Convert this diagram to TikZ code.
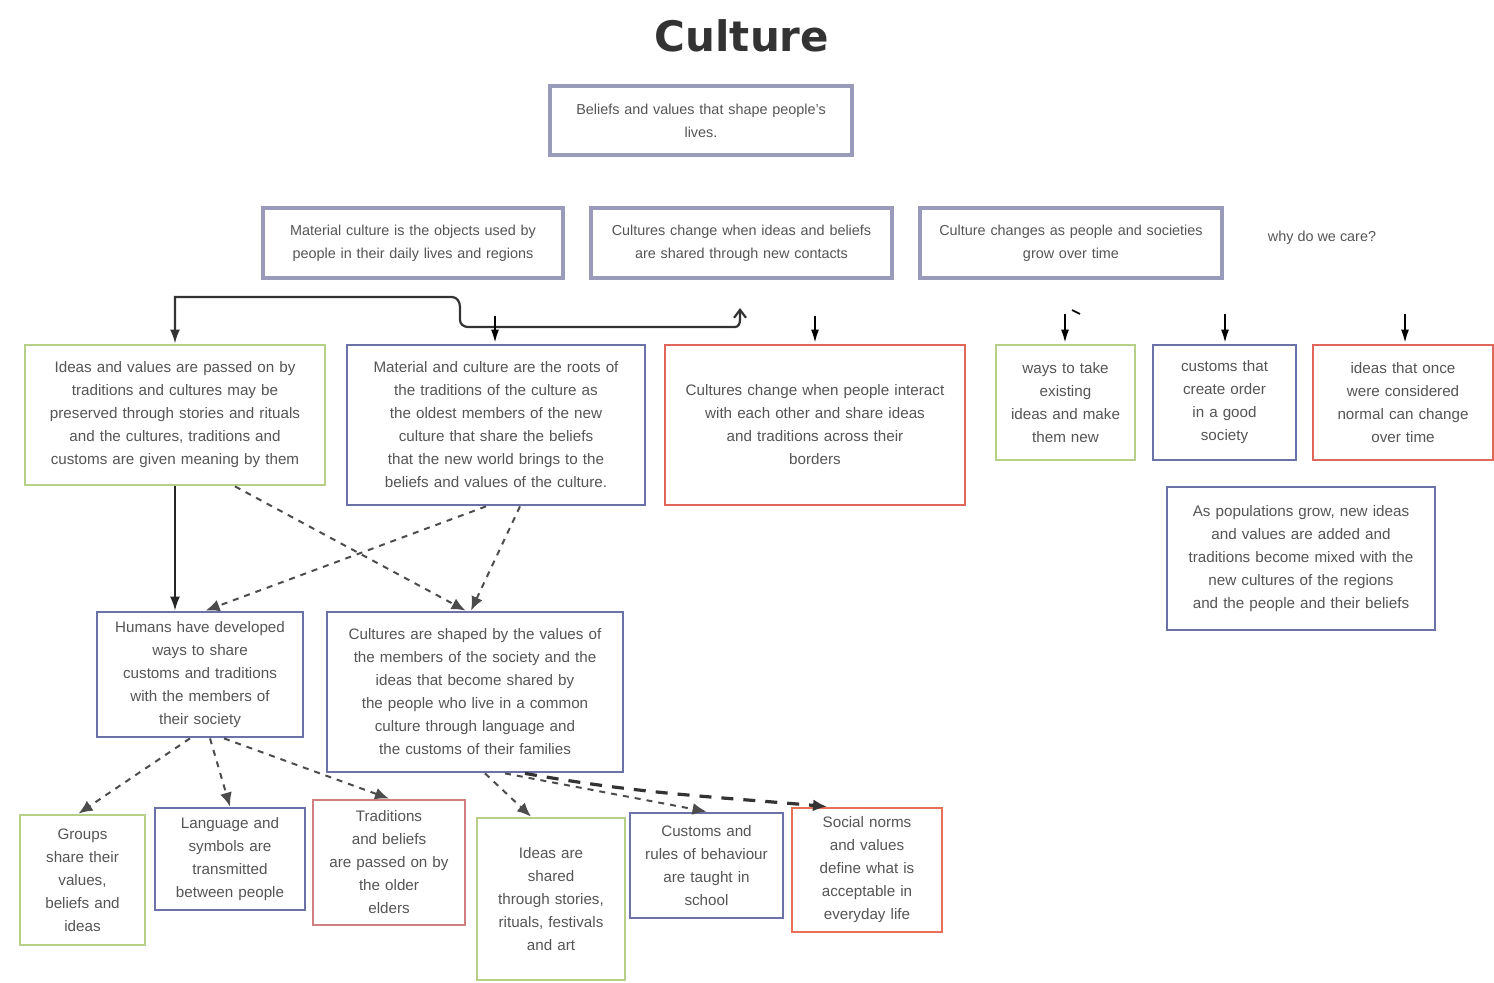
\documentclass[tikz,border=0pt]{standalone}
\usepackage{fontspec}
\setmainfont{Liberation Sans}
\newfontfamily\titlefont{DejaVu Sans}
\usetikzlibrary{arrows.meta}
\hyphenpenalty=10000
\exhyphenpenalty=10000
\definecolor{cgreen}{HTML}{B8CF88}
\definecolor{cblue}{HTML}{6A72A8}
\definecolor{cred}{HTML}{E0675A}
\definecolor{cpink}{HTML}{D08080}
\definecolor{corange}{HTML}{E87058}
\definecolor{cgrey}{HTML}{9A9ABA}
\definecolor{ctext}{HTML}{555555}
\newcommand{\bx}[7]{%
  \pgfmathsetmacro{\bw}{(#4-#2)*0.5}%
  \pgfmathsetmacro{\bh}{(#5-#3)*0.5}%
  \pgfmathsetmacro{\tw}{(#4-#2)*0.5-6}%
  \node[boxbase,minimum width=\bw pt,minimum height=\bh pt,text width=\tw pt,#6] (#1) at ({(#2+#4)/2},{(#3+#5)/2}) {#7};}
\tikzset{
  boxbase/.style={draw,rectangle,inner sep=0pt,align=center,fill=white,
    font=\fontsize{7.6}{11.5}\selectfont,text=ctext,line width=1.4pt},
  gbox/.style={draw=cgreen},
  bbox/.style={draw=cblue},
  rbox/.style={draw=cred},
  pbox/.style={draw=cpink},
  obox/.style={draw=corange},
  tbox/.style={draw=cgrey,line width=1.8pt,font=\fontsize{7.2}{11.5}\selectfont},
  solidarr/.style={line width=1pt,black!85,-{Latex[length=7pt,width=5pt]}},
  dasharr/.style={line width=1pt,black!70,dash pattern=on 3pt off 3pt,-{Latex[length=7pt,width=6pt]}},
  thickdash/.style={line width=1.6pt,black!80,dash pattern=on 6pt off 5pt,-{Latex[length=7pt,width=6pt]}},
  stub/.style={line width=1.2pt,black,-{Latex[length=7pt,width=4pt]}}
}
\begin{document}
\begin{tikzpicture}[x=0.5pt,y=-0.5pt]
\useasboundingbox (0,0) rectangle (1494,983);
\node[font=\titlefont\bfseries\fontsize{21}{24}\selectfont,text=black!80] (title) at (742,36) {Culture};
% top
\bx{top}{550}{86}{852}{155}{tbox}{Beliefs and values that shape people's\\lives.}
% row 2
\bx{r1}{263}{208}{563}{278}{tbox}{Material culture is the objects used by\\people in their daily lives and regions}
\bx{r2}{591}{208}{892}{278}{tbox}{Cultures change when ideas and beliefs\\are shared through new contacts}
\bx{r3}{920}{208}{1222}{278}{tbox}{Culture changes as people and societies\\grow over time}
\node[font=\fontsize{7.2}{11.5}\selectfont,text=ctext] (care) at (1322,238) {why do we care?};
% row 3
\bx{A}{25}{345}{325}{485}{gbox}{Ideas and values are passed on by\\traditions and cultures may be\\preserved through stories and rituals\\and the cultures, traditions and\\customs are given meaning by them}
\bx{B}{347}{345}{645}{505}{bbox}{Material and culture are the roots of\\the traditions of the culture as\\the oldest members of the new\\culture that share the beliefs\\that the new world brings to the\\beliefs and values of the culture.}
\bx{C}{665}{345}{965}{505}{rbox}{Cultures change when people interact\\with each other and share ideas\\and traditions across their\\borders}
\bx{D}{996}{345}{1135}{460}{gbox}{ways to take\\existing\\ideas and make\\them new}
\bx{E}{1153}{345}{1296}{460}{bbox}{customs that\\create order\\in a good\\society}
\bx{F}{1313}{345}{1493}{460}{rbox}{ideas that once\\were considered\\normal can change\\over time}
\bx{G}{1167}{487}{1435}{630}{bbox}{As populations grow, new ideas\\and values are added and\\traditions become mixed with the\\new cultures of the regions\\and the people and their beliefs}
% row 4
\bx{H}{97}{612}{303}{737}{bbox}{Humans have developed\\ways to share\\customs and traditions\\with the members of\\their society}
\bx{I}{327}{612}{623}{772}{bbox}{Cultures are shaped by the values of\\the members of the society and the\\ideas that become shared by\\the people who live in a common\\culture through language and\\the customs of their families}
% row 5
\bx{J}{20}{815}{145}{945}{gbox}{Groups\\share their\\values,\\beliefs and\\ideas}
\bx{K}{155}{808}{305}{910}{bbox}{Language and\\symbols are\\transmitted\\between people}
\bx{L}{313}{800}{465}{925}{pbox}{Traditions\\and beliefs\\are passed on by\\the older\\elders}
\bx{M}{477}{818}{625}{980}{gbox}{Ideas are\\shared\\through stories,\\rituals, festivals\\and art}
\bx{N}{630}{813}{783}{918}{bbox}{Customs and\\rules of behaviour\\are taught in\\school}
\bx{O}{792}{808}{942}{932}{obox}{Social norms\\and values\\define what is\\acceptable in\\everyday life}
% top routed connector
\coordinate (loopend) at (740,308);
\draw[line width=1.1pt,black!80,{Latex[length=7pt,width=5pt]}-{Straight Barb[length=4pt,width=6pt]}]
  (A.north) -- (175,297) -- (452,297) to[out=0,in=90] (460,307) -- (460,320) to[out=-90,in=180] (468,327) -- (735,327) to[out=0,in=-90] (740,320) -- (loopend);
% stubs into row 3
\coordinate (sB) at (495,316);
\coordinate (sC) at (815,316);
\coordinate (sD) at (1065,314);
\coordinate (sE) at (1225,314);
\coordinate (sF) at (1405,314);
\draw[stub] (sB) -- (B.north -| sB);
\draw[stub] (sC) -- (C.north -| sC);
\draw[stub] (sD) -- (D.north -| sD);
\draw[stub] (sE) -- (E.north -| sE);
\draw[stub] (sF) -- (F.north -| sF);
\coordinate (tickD) at (1072,310);
\draw[line width=0.8pt,black] (tickD) -- ++(8,4);
% row3 -> row4
\draw[solidarr] (A.south) -- (A.south |- H.north);
\draw[dasharr] ([xshift=30]A.south) -- ([xshift=70]I.north west);
\draw[dasharr] ([xshift=-5]B.south) -- ([xshift=55]H.north west);
\draw[dasharr] ([xshift=12]B.south) -- ([xshift=-2]I.north);
% row4 -> row5
\draw[dasharr] ([xshift=-5]H.south) -- ([xshift=-2]J.north);
\draw[dasharr] ([xshift=5]H.south) -- (K.north);
\draw[dasharr] ([xshift=12]H.south) -- (L.north);
\draw[dasharr] ([xshift=5]I.south) -- ([xshift=-10]M.north);
\draw[dasharr] ([xshift=15]I.south) -- (N.north);
\draw[thickdash] ([xshift=25]I.south) to[out=-10,in=175] ([xshift=-20]O.north);
\end{tikzpicture}
\end{document}
